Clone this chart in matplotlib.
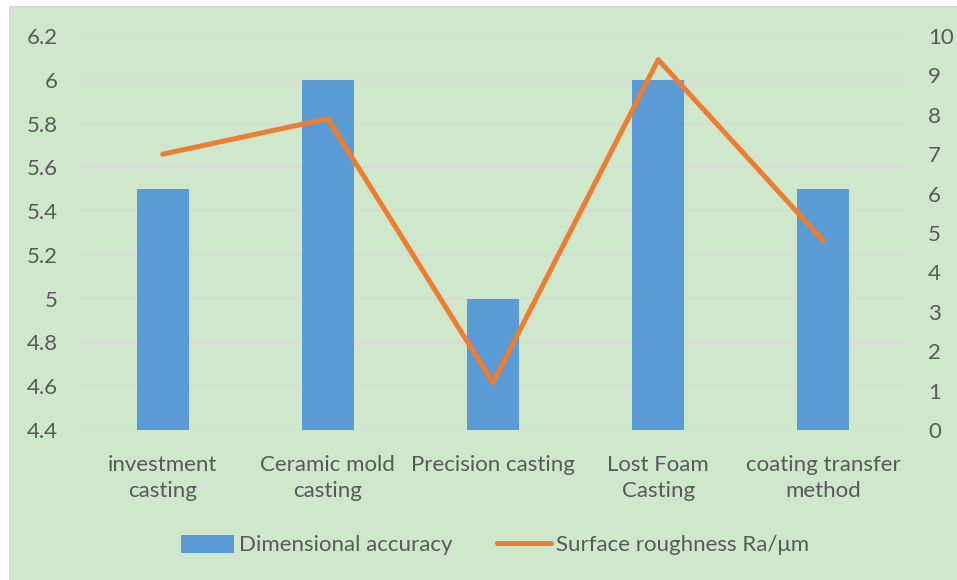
import matplotlib
matplotlib.use("Agg")
import matplotlib.pyplot as plt
from matplotlib.patches import Rectangle

categories = ["investment\ncasting", "Ceramic mold\ncasting", "Precision casting",
              "Lost Foam\nCasting", "coating transfer\nmethod"]
accuracy = [5.5, 6.0, 5.0, 6.0, 5.5]
roughness = [7.0, 7.9, 1.2, 9.4, 4.8]

left_ticks = [4.4, 4.6, 4.8, 5.0, 5.2, 5.4, 5.6, 5.8, 6.0, 6.2]
left_labels = ["4.4", "4.6", "4.8", "5", "5.2", "5.4", "5.6", "5.8", "6", "6.2"]
right_ticks = list(range(0, 11))

bg = "#cfe8cc"
txt = "#595959"
fs = 16
plt.rcParams["font.family"] = ["Lato", "DejaVu Sans"]

W, H = 957, 580
fig = plt.figure(figsize=(W / 100, H / 100), dpi=100, facecolor="white")
# chart area with thin gray frame
frame = Rectangle((10 / W, -0.01), 1.02, 1 - 7 / H + 0.01, transform=fig.transFigure,
                  facecolor=bg, edgecolor="#d9d9d9", linewidth=1.5, zorder=-10)
fig.add_artist(frame)

ax = fig.add_axes([80 / W, 1 - 430 / H, 826 / W, 394 / H])
ax.set_facecolor("none")
x = list(range(len(categories)))
ax.bar(x, accuracy, width=0.315, color="#5b9bd5", zorder=3, label="Dimensional accuracy")
ax.set_xlim(-0.5, len(categories) - 0.5)
ax.set_ylim(4.4, 6.2)
ax.set_yticks(left_ticks)
ax.set_yticklabels(left_labels)
ax.yaxis.grid(True, color="#d9d9d9", linewidth=1.2, zorder=0)
ax.set_axisbelow(True)
ax.set_xticks(x)
ax.set_xticklabels(categories, linespacing=1.35, va="top")
for s in ax.spines.values():
    s.set_visible(False)
ax.tick_params(axis="both", length=0, colors=txt, labelsize=fs)
ax.tick_params(axis="y", pad=16)
ax.tick_params(axis="x", pad=18)

ax2 = ax.twinx()
ax2.plot(x, roughness, color="#ed7d31", linewidth=3.6, zorder=4,
         solid_capstyle="round", label="Surface roughness Ra/\u03bcm")
ax2.set_ylim(0, 10)
ax2.set_yticks(right_ticks)
for s in ax2.spines.values():
    s.set_visible(False)
ax2.tick_params(axis="y", length=0, colors=txt, labelsize=fs, pad=16)

h1, l1 = ax.get_legend_handles_labels()
h2, l2 = ax2.get_legend_handles_labels()
fig.legend(h1 + h2, l1 + l2, loc="center", bbox_to_anchor=(495 / W, 1 - 545 / H), ncol=2,
           frameon=False, fontsize=fs, labelcolor=txt, handlelength=2.4,
           handleheight=0.9, columnspacing=2.0, handletextpad=0.25)

fig.savefig("out.png", dpi=100, facecolor="white")
